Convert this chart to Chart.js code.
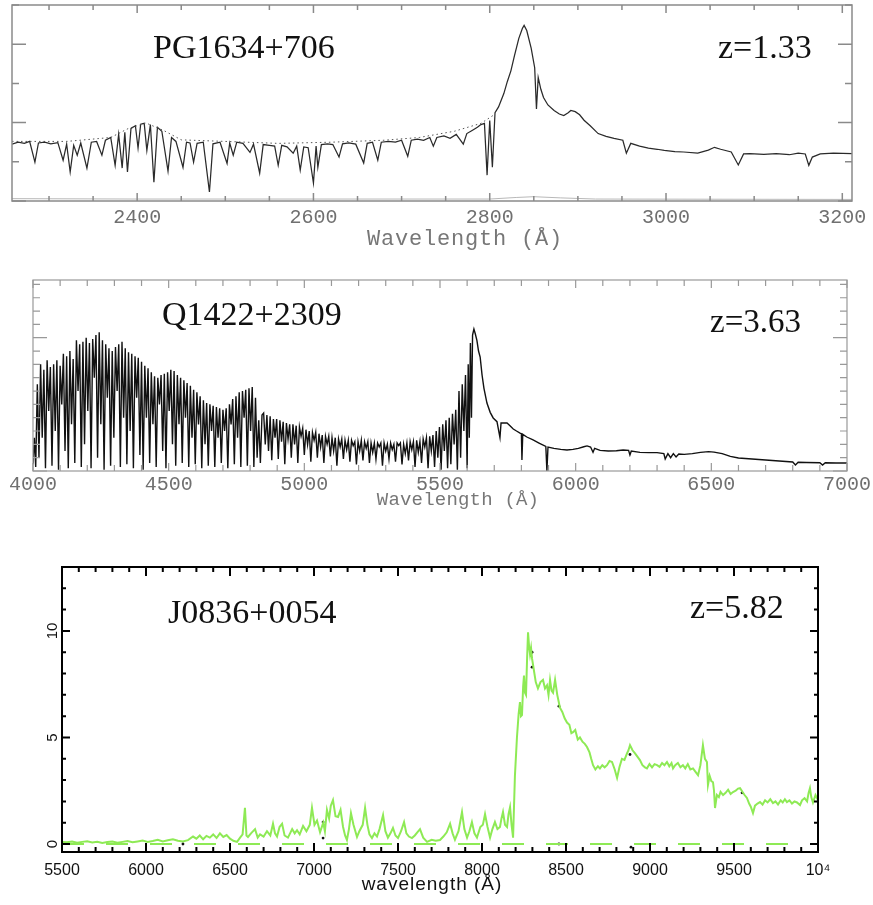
<!DOCTYPE html>
<html>
<head>
<meta charset="utf-8">
<script src="https://cdn.jsdelivr.net/npm/chart.js@4.4.0/dist/chart.umd.min.js"></script>
<style>
    html, body { margin: 0; padding: 0; background: #fff; }
    body { width: 873px; height: 905px; position: relative; overflow: hidden; }
    canvas { position: absolute; left: 0; }
</style>
</head>
<body>
<canvas id="pg" width="873" height="255" style="top:0"></canvas>
<canvas id="q" width="873" height="270" style="top:255px"></canvas>
<canvas id="j" width="873" height="380" style="top:525px"></canvas>
<script>
// PG1634+706, z=1.33 (flux in arbitrary units)
const pgWave = [
    2258, 2265, 2272, 2278, 2284, 2288, 2295, 2302, 2310, 2316,
    2320, 2324, 2328, 2332, 2336, 2343, 2348, 2354, 2360, 2364,
    2370, 2375, 2379, 2383, 2386, 2389, 2393, 2398, 2401, 2404,
    2408, 2411, 2415, 2419, 2423, 2428, 2435, 2439, 2444, 2452,
    2456, 2460, 2464, 2468, 2475, 2482, 2486, 2494, 2502, 2505,
    2509, 2513, 2520, 2528, 2532, 2539, 2543, 2550, 2556, 2560,
    2564, 2570, 2577, 2581, 2585, 2589, 2594, 2600, 2603, 2605,
    2609, 2616, 2622, 2629, 2633, 2640, 2648, 2657, 2661, 2667,
    2673, 2677, 2685, 2693, 2700, 2707, 2711, 2718, 2725, 2732,
    2736, 2740, 2748, 2755, 2762, 2770, 2774, 2780, 2786, 2790,
    2794, 2797, 2800, 2803, 2806, 2810, 2816, 2820, 2824, 2828,
    2833, 2837, 2839, 2842, 2847, 2851, 2853, 2855, 2858, 2861,
    2866, 2873, 2879, 2884, 2889, 2892, 2897, 2902, 2907, 2914,
    2923, 2932, 2941, 2951, 2955, 2960, 2970, 2980, 2990, 2998,
    3010, 3020, 3036, 3048, 3055, 3062, 3074, 3082, 3088, 3095,
    3111, 3125, 3140, 3150, 3158, 3162, 3166, 3175, 3190, 3211
];
const pgFlux = [
    1.45, 1.50, 1.47, 1.52, 0.99, 1.48, 1.50, 1.46, 1.49, 1.04,
    1.45, 0.74, 1.42, 1.17, 1.48, 0.84, 1.50, 1.52, 1.17, 1.55,
    1.62, 0.91, 1.70, 0.84, 1.75, 0.74, 1.85, 1.92, 1.35, 1.96,
    1.98, 1.29, 1.95, 0.48, 1.88, 1.78, 0.76, 1.62, 1.52, 0.86,
    1.50, 1.48, 0.99, 1.47, 1.50, 0.23, 1.46, 1.50, 0.96, 1.48,
    1.17, 1.50, 1.47, 1.24, 1.45, 0.71, 1.44, 1.42, 1.40, 0.91,
    1.42, 1.38, 1.22, 1.40, 0.79, 1.38, 1.36, 0.46, 1.40, 0.86,
    1.44, 1.46, 1.44, 1.12, 1.46, 1.48, 1.45, 0.97, 1.47, 1.50,
    1.04, 1.50, 1.52, 1.50, 1.55, 1.14, 1.55, 1.58, 1.55, 1.62,
    1.40, 1.62, 1.66, 1.60, 1.70, 1.45, 1.72, 1.80, 1.88, 1.95,
    1.98, 0.66, 2.05, 0.86, 2.25, 2.40, 2.74, 3.05, 3.32, 3.70,
    4.15, 4.40, 4.48, 4.35, 3.90, 3.40, 2.35, 3.15, 2.85, 2.64,
    2.45, 2.31, 2.22, 2.18, 2.25, 2.31, 2.28, 2.20, 2.06, 1.92,
    1.72, 1.65, 1.60, 1.55, 1.22, 1.47, 1.40, 1.35, 1.32, 1.29,
    1.26, 1.25, 1.22, 1.30, 1.37, 1.32, 1.25, 0.92, 1.20, 1.21,
    1.19, 1.21, 1.18, 1.22, 1.20, 0.91, 1.12, 1.20, 1.22, 1.21
];
const pgFitWave = [2258, 2320, 2370, 2390, 2410, 2430, 2450, 2500, 2560, 2620, 2680, 2720, 2760, 2790, 2805];
const pgFitFlux = [1.52, 1.52, 1.62, 1.85, 1.99, 1.80, 1.56, 1.52, 1.47, 1.50, 1.55, 1.62, 1.78, 1.98, 2.20];
const pgErrWave = [2258, 2400, 2600, 2800, 2830, 2850, 2880, 2920, 3211];
const pgErrFlux = [0.06, 0.05, 0.05, 0.05, 0.09, 0.11, 0.08, 0.05, 0.04];
const pgTickLabels = [2400, 2600, 2800, 3000, 3200];

// Q1422+2309, z=3.63
const qWave = [
    4000, 4005, 4010, 4016, 4022, 4028, 4034, 4040, 4046, 4052,
    4058, 4064, 4070, 4076, 4082, 4088, 4094, 4100, 4106, 4112,
    4118, 4124, 4130, 4136, 4142, 4148, 4154, 4160, 4166, 4172,
    4178, 4184, 4190, 4196, 4202, 4208, 4214, 4220, 4226, 4232,
    4238, 4244, 4250, 4256, 4262, 4268, 4274, 4280, 4286, 4292,
    4298, 4304, 4310, 4316, 4322, 4328, 4334, 4340, 4346, 4352,
    4358, 4364, 4370, 4376, 4382, 4388, 4394, 4400, 4406, 4412,
    4418, 4424, 4430, 4436, 4442, 4448, 4454, 4460, 4466, 4472,
    4478, 4484, 4490, 4496, 4502, 4508, 4514, 4520, 4526, 4532,
    4538, 4544, 4550, 4556, 4562, 4568, 4574, 4580, 4586, 4592,
    4598, 4604, 4610, 4616, 4622, 4628, 4634, 4640, 4646, 4652,
    4658, 4664, 4670, 4676, 4682, 4688, 4694, 4700, 4706, 4712,
    4718, 4724, 4730, 4736, 4742, 4748, 4754, 4760, 4766, 4772,
    4778, 4784, 4790, 4796, 4802, 4808, 4814, 4820, 4826, 4832,
    4838, 4844, 4850, 4856, 4862, 4868, 4874, 4880, 4886, 4892,
    4898, 4904, 4910, 4916, 4922, 4928, 4934, 4940, 4946, 4952,
    4958, 4964, 4970, 4976, 4982, 4988, 4994, 5000, 5006, 5012,
    5018, 5024, 5030, 5036, 5042, 5048, 5054, 5060, 5066, 5072,
    5078, 5084, 5090, 5096, 5102, 5108, 5114, 5120, 5126, 5132,
    5138, 5144, 5150, 5156, 5162, 5168, 5174, 5180, 5186, 5192,
    5198, 5204, 5210, 5216, 5222, 5228, 5234, 5240, 5246, 5252,
    5258, 5264, 5270, 5276, 5282, 5288, 5294, 5300, 5306, 5312,
    5318, 5324, 5330, 5336, 5342, 5348, 5354, 5360, 5366, 5372,
    5378, 5384, 5390, 5396, 5402, 5408, 5414, 5420, 5426, 5432,
    5438, 5444, 5450, 5456, 5462, 5468, 5474, 5480, 5486, 5492,
    5498, 5504, 5510, 5516, 5522, 5528, 5534, 5540, 5546, 5552,
    5558, 5564, 5570, 5576, 5582, 5588, 5594, 5600, 5604, 5608,
    5612, 5616, 5620, 5625, 5630, 5636, 5642, 5648, 5655, 5662,
    5673, 5685, 5696, 5710, 5721, 5725, 5735, 5747, 5758, 5770,
    5782, 5795, 5800, 5802, 5805, 5820, 5843, 5865, 5890, 5894,
    5898, 5920, 5945, 5968, 5990, 6010, 6030, 6042, 6055, 6064,
    6070, 6090, 6120, 6150, 6175, 6195, 6200, 6205, 6237, 6270,
    6300, 6325, 6330, 6340, 6350, 6360, 6370, 6380, 6400, 6430,
    6460, 6490, 6510, 6540, 6570, 6600, 6650, 6700, 6750, 6800,
    6810, 6820, 6850, 6900, 6910, 6920, 6960, 7000
];
const qFlux = [
    0.5, 2.5, 0.3, 6.5, 1.0, 8.0, 2.5, 7.6, 0.2, 8.3,
    4.5, 7.8, 0.4, 8.0, 3.0, 8.3, 0.1, 7.9, 5.0, 8.8,
    1.5, 8.6, 0.2, 9.0, 3.5, 8.4, 0.6, 9.8, 6.0, 9.5,
    0.3, 9.7, 2.0, 10.0, 4.5, 9.6, 0.2, 9.9, 7.0, 10.2,
    1.0, 10.4, 3.5, 9.8, 0.1, 9.5, 5.5, 9.2, 0.4, 9.0,
    2.5, 9.3, 6.0, 9.5, 0.3, 9.7, 4.0, 9.2, 0.5, 8.9,
    3.0, 8.8, 0.2, 8.6, 5.5, 8.5, 1.2, 8.2, 0.1, 7.9,
    4.0, 7.7, 0.6, 7.4, 3.5, 7.1, 0.3, 7.0, 5.0, 7.2,
    1.5, 7.3, 0.2, 7.4, 4.5, 7.6, 2.0, 7.5, 0.4, 7.2,
    3.5, 7.0, 0.6, 6.8, 4.0, 6.6, 0.3, 6.4, 2.5, 6.1,
    0.5, 5.9, 3.5, 5.6, 0.2, 5.3, 2.0, 5.1, 0.4, 5.0,
    3.0, 4.9, 0.3, 4.8, 2.5, 4.7, 0.6, 4.6, 3.0, 4.7,
    0.2, 5.0, 3.5, 5.4, 0.5, 5.6, 2.5, 5.9, 0.3, 6.0,
    4.0, 6.1, 0.4, 6.2, 3.0, 6.3, 0.3, 5.5, 1.0, 3.8,
    0.6, 4.2, 4.35, 2.0, 4.2, 1.5, 4.1, 0.8, 3.9, 2.5,
    3.9, 0.9, 3.8, 2.2, 3.7, 0.5, 3.6, 2.4, 3.5, 1.0,
    3.5, 2.0, 3.4, 0.6, 3.3, 2.6, 3.2, 1.2, 3.1, 2.0,
    3.0, 0.7, 2.9, 2.3, 2.9, 1.0, 2.8, 1.8, 2.7, 0.6,
    2.6, 2.0, 2.6, 1.1, 2.5, 1.5, 2.5, 0.4, 2.4, 1.8,
    2.4, 0.9, 2.3, 1.6, 2.3, 0.7, 2.3, 1.9, 2.2, 0.5,
    2.2, 1.5, 2.3, 0.8, 2.2, 1.7, 2.2, 0.6, 2.1, 1.4,
    2.1, 0.9, 2.1, 1.8, 2.1, 0.4, 2.1, 1.5, 2.0, 0.9,
    2.1, 1.6, 2.0, 0.7, 2.1, 1.9, 2.1, 0.5, 2.0, 1.3,
    2.1, 0.8, 2.2, 1.6, 2.2, 0.3, 2.3, 1.4, 2.2, 0.6,
    2.4, 1.8, 2.5, 0.2, 2.6, 1.5, 2.7, 0.3, 3.0, 1.0,
    3.3, 0.1, 3.5, 1.5, 3.8, 0.2, 4.0, 0.5, 4.3, 2.0,
    4.6, 0.1, 6.0, 1.0, 6.5, 3.0, 7.2, 0.2, 8.0, 2.5,
    9.6, 4.0, 10.2, 10.65, 10.3, 9.8, 9.0, 8.55, 7.2, 6.2,
    5.1, 4.4, 3.98, 3.7, 2.5, 3.6, 3.6, 3.6, 3.4, 3.15,
    3.0, 2.85, 2.8, 0.83, 2.75, 2.55, 2.33, 2.1, 1.85, 0.0,
    1.8, 1.7, 1.62, 1.58, 1.62, 1.7, 1.82, 1.88, 1.8, 1.4,
    1.7, 1.55, 1.5, 1.52, 1.58, 1.55, 1.2, 1.5, 1.4, 1.38,
    1.38, 1.3, 0.9, 1.3, 1.0, 1.3, 1.05, 1.28, 1.25, 1.3,
    1.4, 1.45, 1.42, 1.3, 1.1, 0.98, 0.9, 0.83, 0.75, 0.68,
    0.45, 0.66, 0.64, 0.62, 0.45, 0.62, 0.6, 0.6
];
const qTickLabels = [4000, 4500, 5000, 5500, 6000, 6500, 7000];

// J0836+0054, z=5.82
const jWave = [
    5500, 5530, 5560, 5590, 5620, 5650, 5680, 5710, 5740, 5770,
    5800, 5830, 5860, 5890, 5920, 5950, 5980, 6010, 6040, 6070,
    6100, 6130, 6160, 6190, 6220, 6250, 6280, 6300, 6320, 6340,
    6360, 6380, 6400, 6420, 6440, 6460, 6480, 6500, 6520, 6542,
    6560, 6575, 6589, 6598, 6607, 6625, 6649, 6665, 6679, 6700,
    6720, 6740, 6756, 6768, 6780, 6795, 6810, 6825, 6845, 6870,
    6885, 6899, 6915, 6935, 6955, 6975, 6988, 7003, 7018, 7036,
    7055, 7065, 7077, 7090, 7100, 7113, 7128, 7143, 7158, 7173,
    7185, 7196, 7208, 7220, 7235, 7256, 7270, 7290, 7304, 7318,
    7330, 7345, 7360, 7375, 7390, 7411, 7425, 7440, 7455, 7470,
    7485, 7500, 7518, 7536, 7550, 7565, 7583, 7600, 7615, 7631,
    7650, 7673, 7700, 7725, 7750, 7770, 7790, 7810, 7825, 7839,
    7860, 7881, 7895, 7911, 7925, 7940, 7955, 7970, 7990, 8005,
    8018, 8033, 8048, 8062, 8077, 8092, 8107, 8116, 8125, 8137,
    8149, 8158, 8167, 8176, 8185, 8196, 8208, 8218, 8226, 8232,
    8238, 8245, 8250, 8256, 8262, 8268, 8274, 8280, 8286, 8292,
    8298, 8304, 8312, 8320, 8333, 8348, 8363, 8375, 8387, 8396,
    8405, 8414, 8423, 8435, 8448, 8464, 8478, 8492, 8506, 8520,
    8532, 8542, 8555, 8570, 8583, 8598, 8612, 8625, 8640, 8650,
    8661, 8675, 8690, 8702, 8716, 8730, 8744, 8759, 8774, 8790,
    8804, 8818, 8833, 8848, 8863, 8872, 8881, 8896, 8911, 8925,
    8940, 8955, 8970, 8982, 8997, 9012, 9027, 9042, 9057, 9072,
    9086, 9101, 9115, 9128, 9137, 9150, 9166, 9181, 9196, 9210,
    9225, 9240, 9256, 9270, 9286, 9300, 9315, 9327, 9339, 9345,
    9355, 9365, 9375, 9381, 9387, 9398, 9410, 9420, 9435, 9450,
    9465, 9480, 9494, 9510, 9524, 9536, 9550, 9563, 9577, 9590,
    9600, 9613, 9625, 9640, 9655, 9670, 9685, 9700, 9716, 9732,
    9747, 9762, 9778, 9790, 9803, 9815, 9830, 9845, 9860, 9875,
    9893, 9905, 9920, 9935, 9944, 9952, 9960, 9970, 9985, 10000
];
const jFlux = [
    0.10, 0.08, 0.12, 0.06, 0.10, 0.13, 0.07, 0.11, 0.05, 0.09,
    0.12, 0.06, 0.10, 0.14, 0.08, 0.12, 0.16, 0.10, 0.14, 0.20,
    0.12, 0.18, 0.22, 0.15, 0.12, 0.18, 0.35, 0.25, 0.40, 0.22,
    0.38, 0.30, 0.45, 0.28, 0.50, 0.33, 0.42, 0.25, 0.15, 0.10,
    0.30, 0.45, 1.70, 0.40, 0.33, 0.50, 0.70, 0.30, 0.45, 0.35,
    0.60, 0.40, 0.95, 0.50, 0.35, 0.80, 0.95, 0.40, 0.30, 0.70,
    0.50, 0.65, 0.45, 0.85, 0.60, 0.90, 1.70, 0.90, 1.10, 0.55,
    1.00, 0.60, 1.60, 1.20, 1.80, 2.06, 1.30, 1.27, 1.60, 0.80,
    0.40, 0.19, 0.70, 1.45, 0.90, 0.33, 0.60, 0.90, 1.70, 0.90,
    0.45, 0.28, 0.50, 0.35, 0.70, 1.36, 0.60, 0.30, 0.50, 0.75,
    0.40, 0.28, 0.60, 1.03, 0.50, 0.35, 0.28, 0.40, 0.55, 0.70,
    0.30, 0.10, 0.20, 0.15, 0.19, 0.35, 0.55, 0.95, 0.50, 0.20,
    0.60, 1.50, 0.70, 0.30, 0.60, 1.03, 0.50, 0.30, 0.80, 0.90,
    1.40, 0.80, 0.30, 0.70, 1.03, 0.70, 0.80, 1.20, 1.50, 0.90,
    0.80, 1.40, 1.73, 0.90, 0.30, 3.20, 5.00, 6.10, 6.66, 6.00,
    6.05, 7.40, 7.90, 7.10, 7.00, 8.60, 9.94, 9.30, 8.90, 9.20,
    8.70, 8.40, 8.00, 7.60, 7.30, 7.60, 7.70, 7.30, 7.45, 7.00,
    7.70, 7.20, 7.10, 7.70, 7.00, 6.40, 6.20, 5.90, 5.70, 5.60,
    5.20, 5.25, 5.35, 4.90, 5.00, 4.80, 4.70, 4.55, 4.30, 4.00,
    3.70, 3.50, 3.65, 3.55, 3.70, 3.60, 3.70, 3.90, 3.85, 3.50,
    3.10, 3.60, 4.00, 3.95, 4.25, 4.40, 4.64, 4.40, 4.25, 4.10,
    3.94, 3.70, 3.60, 3.55, 3.75, 3.60, 3.75, 3.70, 3.62, 3.80,
    3.70, 3.85, 3.65, 3.80, 3.55, 3.70, 3.80, 3.60, 3.70, 3.55,
    3.75, 3.50, 3.55, 3.40, 3.23, 3.70, 4.64, 4.00, 3.85, 2.77,
    3.20, 2.95, 2.90, 2.50, 1.69, 2.30, 2.20, 2.45, 2.30, 2.40,
    2.55, 2.35, 2.44, 2.50, 2.60, 2.62, 2.45, 2.30, 2.16, 1.90,
    1.75, 1.45, 1.80, 1.90, 1.97, 1.85, 2.05, 1.95, 2.10, 1.92,
    2.00, 1.85, 2.05, 1.95, 2.10, 1.97, 2.05, 1.90, 2.00, 1.95,
    1.83, 2.05, 2.15, 2.00, 2.40, 2.62, 2.20, 1.95, 2.30, 2.06
];
const jErrWave = [5500, 10000];
const jErrFlux = [0.0, 0.0];
const jMarkWave = [6220, 7054, 7054, 8298, 8298, 8458, 8881, 9548, 8458, 8887];
const jMarkFlux = [0.0, 1.03, 0.28, 9.0, 8.3, 6.47, 4.2, 2.4, 0.0, -0.15];
const jTickValues = [5500, 6000, 6500, 7000, 7500, 8000, 8500, 9000, 9500, 10000];
const jTickLabels = ['5500', '6000', '6500', '7000', '7500', '8000', '8500', '9000', '9500', '10⁴'];
const jYLabels = [0, 5, 10];

const MONO = "'Liberation Mono', 'Courier New', monospace";
const SERIF = "'Liberation Serif', 'Times New Roman', serif";
const SANS = "'Liberation Sans', Arial, sans-serif";

function toPoints(xs, ys) {
    return xs.map((x, i) => ({x: x, y: ys[i]}));
}

// frame with inward ticks on all four sides, taken from the scales' ticks
const frameTicks = {
    id: 'frameTicks',
    afterDatasetsDraw(chart, args, o) {
        const {ctx, chartArea: a} = chart;
        const xs = chart.scales.x;
        const ys = chart.scales.y;
        ctx.save();
        ctx.strokeStyle = o.color;
        ctx.lineWidth = o.width;
        ctx.beginPath();
        xs.ticks.forEach(t => {
            const p = xs.getPixelForValue(t.value);
            const len = t.value % o.xMajorStep === 0 ? o.xMajorLen : o.xMinorLen;
            ctx.moveTo(p, a.bottom);
            ctx.lineTo(p, a.bottom - len);
            ctx.moveTo(p, a.top);
            ctx.lineTo(p, a.top + len);
        });
        ys.ticks.forEach(t => {
            const p = ys.getPixelForValue(t.value);
            const len = t.value % o.yMajorStep === 0 ? o.yMajorLen : o.yMinorLen;
            ctx.moveTo(a.left, p);
            ctx.lineTo(a.left + len, p);
            ctx.moveTo(a.right, p);
            ctx.lineTo(a.right - len, p);
        });
        ctx.stroke();
        ctx.strokeRect(a.left, a.top, a.right - a.left, a.bottom - a.top);
        if (o.yLabels) {
            ctx.fillStyle = o.labelColor;
            ctx.font = o.labelFont;
            ctx.textAlign = 'center';
            ctx.textBaseline = 'alphabetic';
            o.yLabels.forEach(v => {
                ctx.save();
                ctx.translate(a.left - 5, ys.getPixelForValue(v));
                ctx.rotate(-Math.PI / 2);
                ctx.fillText(String(v), 0, 0);
                ctx.restore();
            });
        }
        ctx.restore();
    }
};

// free text: object names, redshifts, axis titles
const notes = {
    id: 'notes',
    afterDraw(chart, args, o) {
        const ctx = chart.ctx;
        o.items.forEach(n => {
            ctx.save();
            ctx.font = n.font;
            ctx.fillStyle = n.color;
            ctx.textAlign = n.align;
            ctx.textBaseline = 'alphabetic';
            ctx.letterSpacing = (n.spacing || 0) + 'px';
            ctx.fillText(n.text, n.x, n.y);
            ctx.restore();
        });
    }
};

function panelOptions(p) {
    return {
        responsive: false,
        animation: false,
        devicePixelRatio: 1,
        events: [],
        layout: {padding: p.padding},
        elements: {point: {radius: 0}, line: {tension: 0}},
        plugins: {
            legend: {display: false},
            tooltip: {enabled: false},
            frameTicks: p.frame,
            notes: {items: p.notes}
        },
        scales: {
            x: {
                type: 'linear',
                min: p.xMin,
                max: p.xMax,
                afterFit: s => { s.height = p.xHeight; },
                grid: {display: false, drawTicks: false},
                border: {display: false},
                ticks: {
                    stepSize: p.xStep,
                    autoSkip: false,
                    maxRotation: 0,
                    minRotation: 0,
                    includeBounds: false,
                    padding: p.tickPadding,
                    color: p.tickColor,
                    font: p.tickFont,
                    callback: p.tickLabel
                }
            },
            y: {
                type: 'linear',
                min: p.yMin,
                max: p.yMax,
                afterFit: s => { s.width = 0; },
                grid: {display: false, drawTicks: false},
                border: {display: false},
                ticks: {display: false, stepSize: p.yStep, includeBounds: false}
            }
        }
    };
}

new Chart(document.getElementById('pg'), {
    type: 'line',
    data: {
        datasets: [
            {data: toPoints(pgErrWave, pgErrFlux), borderColor: '#b8b8b8', borderWidth: 1},
            {data: toPoints(pgFitWave, pgFitFlux), borderColor: '#555', borderWidth: 1, borderDash: [1.5, 3]},
            {data: toPoints(pgWave, pgFlux), borderColor: '#2a2a2a', borderWidth: 1.25}
        ]
    },
    options: panelOptions({
        padding: {left: 12, right: 21, top: 5, bottom: 0},
        xMin: 2258, xMax: 3211, xStep: 50, xHeight: 54,
        yMin: 0, yMax: 5, yStep: 1,
        tickPadding: 5, tickColor: '#707070', tickFont: {family: MONO, size: 20},
        tickLabel: v => pgTickLabels.includes(v) ? String(v) : '',
        frame: {color: '#8a8a8a', width: 1.5, xMajorStep: 200, xMajorLen: 8, xMinorLen: 5,
            yMajorStep: 2, yMajorLen: 14, yMinorLen: 7},
        notes: [
            {text: 'PG1634+706', x: 153, y: 58, font: '34px ' + SERIF, color: '#111', align: 'left'},
            {text: 'z=1.33', x: 718, y: 58, font: '34px ' + SERIF, color: '#111', align: 'left'},
            {text: 'Wavelength (Å)', x: 465, y: 245, font: '22px ' + MONO, color: '#777', align: 'center', spacing: 0.8}
        ]
    }),
    plugins: [frameTicks, notes]
});

new Chart(document.getElementById('q'), {
    type: 'line',
    data: {
        datasets: [
            {data: toPoints(qWave, qFlux), borderColor: '#111', borderWidth: 1.4}
        ]
    },
    options: panelOptions({
        padding: {left: 33, right: 26, top: 25, bottom: 0},
        xMin: 4000, xMax: 7000, xStep: 100, xHeight: 54,
        yMin: 0, yMax: 14.33, yStep: 1,
        tickPadding: 2, tickColor: '#707070', tickFont: {family: MONO, size: 20},
        tickLabel: v => qTickLabels.includes(v) ? String(v) : '',
        frame: {color: '#999', width: 1.2, xMajorStep: 500, xMajorLen: 8, xMinorLen: 6,
            yMajorStep: 10, yMajorLen: 14, yMinorLen: 7},
        notes: [
            {text: 'Q1422+2309', x: 162, y: 70, font: '34px ' + SERIF, color: '#111', align: 'left'},
            {text: 'z=3.63', x: 710, y: 77, font: '33px ' + SERIF, color: '#111', align: 'left'},
            {text: 'Wavelength (Å)', x: 458, y: 250, font: '19px ' + MONO, color: '#777', align: 'center', spacing: 0.2}
        ]
    }),
    plugins: [frameTicks, notes]
});

new Chart(document.getElementById('j'), {
    type: 'line',
    data: {
        datasets: [
            {data: toPoints(jErrWave, jErrFlux), borderColor: '#8eea55', borderWidth: 2, borderDash: [22, 22]},
            {data: toPoints(jWave, jFlux), borderColor: '#8eea55', borderWidth: 2},
            {type: 'scatter', data: toPoints(jMarkWave, jMarkFlux), pointRadius: 1.4, pointBackgroundColor: '#111', pointBorderWidth: 0, showLine: false}
        ]
    },
    options: panelOptions({
        padding: {left: 62, right: 55, top: 42, bottom: 0},
        xMin: 5500, xMax: 10000, xStep: 100, xHeight: 53,
        yMin: -0.375, yMax: 13, yStep: 1,
        tickPadding: 9, tickColor: '#111', tickFont: {family: SANS, size: 16},
        tickLabel: v => jTickValues.includes(v) ? jTickLabels[jTickValues.indexOf(v)] : '',
        frame: {color: '#000', width: 2, xMajorStep: 500, xMajorLen: 9, xMinorLen: 5,
            yMajorStep: 5, yMajorLen: 8, yMinorLen: 4,
            yLabels: jYLabels, labelFont: '15px ' + SANS, labelColor: '#111'},
        notes: [
            {text: 'J0836+0054', x: 168, y: 98, font: '34px ' + SERIF, color: '#111', align: 'left'},
            {text: 'z=5.82', x: 690, y: 93, font: '34px ' + SERIF, color: '#111', align: 'left'},
            {text: 'wavelength (Å)', x: 432, y: 365, font: '19px ' + SANS, color: '#111', align: 'center', spacing: 1}
        ]
    }),
    plugins: [frameTicks, notes]
});
</script>
</body>
</html>
